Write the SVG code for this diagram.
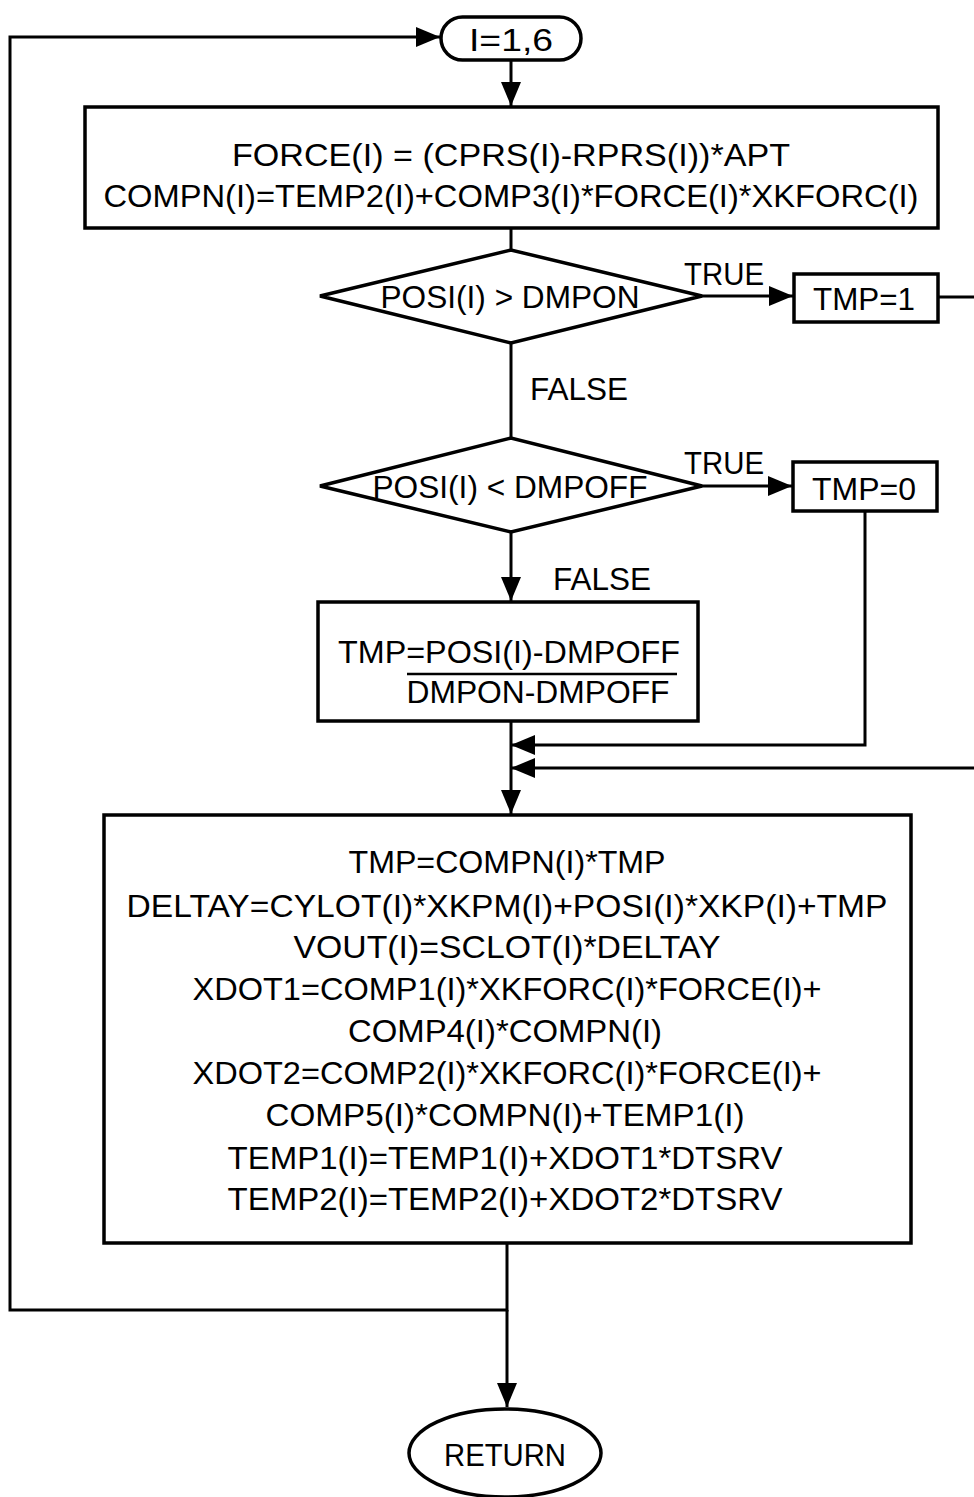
<svg xmlns="http://www.w3.org/2000/svg" width="974" height="1497" viewBox="0 0 974 1497">
<style>
.n{fill:#fff;stroke:#000;stroke-width:3.5}
.c{fill:none;stroke:#000;stroke-width:3}
text{font-family:"Liberation Sans",Arial,sans-serif;font-size:32px;fill:#000;text-anchor:middle}
</style>
<defs>
<marker id="a" markerUnits="userSpaceOnUse" markerWidth="26" markerHeight="20" refX="24" refY="10" orient="auto"><path d="M0,0 L24,10 L0,20 Z" fill="#000"/></marker>
</defs>
<rect width="974" height="1497" fill="#fff"/>
<g id="connectors">
<path class="c" d="M507,1243 V1310 H10 V37 H440" marker-end="url(#a)"/>
<path class="c" d="M511,60 V106" marker-end="url(#a)"/>
<path class="c" d="M511,228 V250"/>
<path class="c" d="M702,296 H793" marker-end="url(#a)"/>
<path class="c" d="M511,343 V438"/>
<path class="c" d="M702,486 H792" marker-end="url(#a)"/>
<path class="c" d="M511,532 V601" marker-end="url(#a)"/>
<path class="c" d="M938,297 H990 V768 H511" marker-end="url(#a)"/>
<path class="c" d="M865,511 V745 H511" marker-end="url(#a)"/>
<path class="c" d="M511,721 V814" marker-end="url(#a)"/>
<path class="c" d="M507,1310 V1407" marker-end="url(#a)"/>
<text x="724" y="285" textLength="80" lengthAdjust="spacingAndGlyphs">TRUE</text>
<text x="579" y="400" textLength="98" lengthAdjust="spacingAndGlyphs">FALSE</text>
<text x="724" y="474" textLength="80" lengthAdjust="spacingAndGlyphs">TRUE</text>
<text x="602" y="590" textLength="98" lengthAdjust="spacingAndGlyphs">FALSE</text>
</g>
<g id="start">
<rect class="n" x="441" y="17" width="140" height="43" rx="21.5"/>
<text x="511" y="51" textLength="84" lengthAdjust="spacingAndGlyphs">I=1,6</text>
</g>
<g id="force">
<rect class="n" x="85" y="107" width="853" height="121"/>
<text x="511" y="166" textLength="558" lengthAdjust="spacingAndGlyphs">FORCE(I) = (CPRS(I)-RPRS(I))*APT</text>
<text x="511" y="207" textLength="815" lengthAdjust="spacingAndGlyphs">COMPN(I)=TEMP2(I)+COMP3(I)*FORCE(I)*XKFORC(I)</text>
</g>
<g id="dec1">
<polygon class="n" points="320,296 511,250 702,296 511,343"/>
<text x="510" y="308" textLength="259" lengthAdjust="spacingAndGlyphs">POSI(I) &gt; DMPON</text>
</g>
<g id="tmp1">
<rect class="n" x="794" y="274" width="144" height="48"/>
<text x="864" y="310" textLength="102" lengthAdjust="spacingAndGlyphs">TMP=1</text>
</g>
<g id="dec2">
<polygon class="n" points="320,486 511,438 702,486 511,532"/>
<text x="510" y="498" textLength="275" lengthAdjust="spacingAndGlyphs">POSI(I) &lt; DMPOFF</text>
</g>
<g id="tmp0">
<rect class="n" x="793" y="462" width="144" height="49"/>
<text x="864" y="500" textLength="104" lengthAdjust="spacingAndGlyphs">TMP=0</text>
</g>
<g id="ratio">
<rect class="n" x="318" y="602" width="380" height="119"/>
<text x="509" y="663" textLength="342" lengthAdjust="spacingAndGlyphs">TMP=POSI(I)-DMPOFF</text>
<line x1="407" y1="674" x2="677" y2="674" stroke="#000" stroke-width="2.5"/>
<text x="538" y="703" textLength="263" lengthAdjust="spacingAndGlyphs">DMPON-DMPOFF</text>
</g>
<g id="compute">
<rect class="n" x="104" y="815" width="807" height="428"/>
<text x="507" y="873" textLength="317" lengthAdjust="spacingAndGlyphs">TMP=COMPN(I)*TMP</text>
<text x="507" y="917" textLength="761" lengthAdjust="spacingAndGlyphs">DELTAY=CYLOT(I)*XKPM(I)+POSI(I)*XKP(I)+TMP</text>
<text x="507" y="958" textLength="427" lengthAdjust="spacingAndGlyphs">VOUT(I)=SCLOT(I)*DELTAY</text>
<text x="507" y="1000" textLength="629" lengthAdjust="spacingAndGlyphs">XDOT1=COMP1(I)*XKFORC(I)*FORCE(I)+</text>
<text x="505" y="1042" textLength="314" lengthAdjust="spacingAndGlyphs">COMP4(I)*COMPN(I)</text>
<text x="507" y="1084" textLength="629" lengthAdjust="spacingAndGlyphs">XDOT2=COMP2(I)*XKFORC(I)*FORCE(I)+</text>
<text x="505" y="1126" textLength="479" lengthAdjust="spacingAndGlyphs">COMP5(I)*COMPN(I)+TEMP1(I)</text>
<text x="505" y="1169" textLength="555" lengthAdjust="spacingAndGlyphs">TEMP1(I)=TEMP1(I)+XDOT1*DTSRV</text>
<text x="505" y="1210" textLength="555" lengthAdjust="spacingAndGlyphs">TEMP2(I)=TEMP2(I)+XDOT2*DTSRV</text>
</g>
<g id="return">
<ellipse class="n" cx="505" cy="1453" rx="96" ry="44"/>
<text x="505" y="1466" textLength="122" lengthAdjust="spacingAndGlyphs">RETURN</text>
</g>
</svg>
